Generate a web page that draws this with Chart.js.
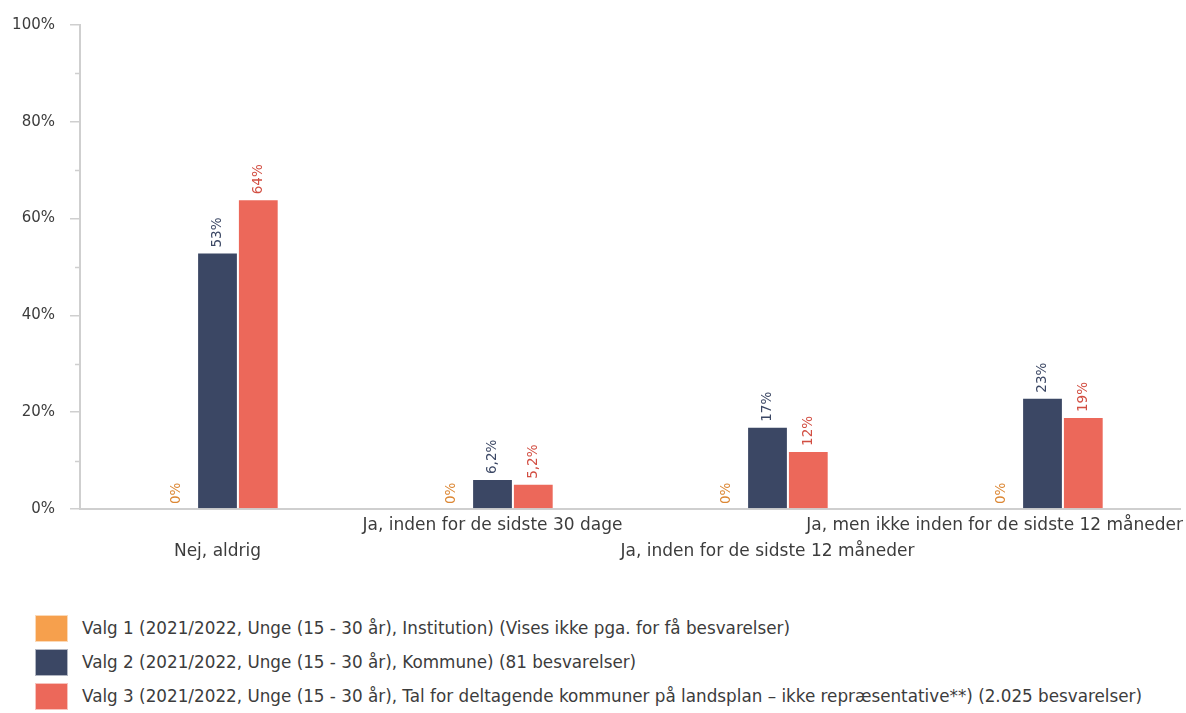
<!DOCTYPE html>
<html>
<head>
<meta charset="utf-8">
<script src="https://cdn.jsdelivr.net/npm/chart.js@4"></script>
<style>
  body { margin: 0; background: #fff; font-family: "DejaVu Sans", sans-serif; }
  #wrap { position: relative; width: 1186px; height: 713px; }
  #chartBox { position: absolute; left: 0; top: 0; width: 1186px; height: 585px; }
  .legend { position: absolute; left: 35px; font-size: 16.8px; color: #3c3c3c; }
  .legend .row { position: absolute; left: 0; height: 27px; white-space: nowrap; }
  .legend .sw { position: absolute; left: 0; top: 0; width: 31px; height: 25px; border: 1px solid rgba(255,255,255,0.6); }
  .legend .txt { position: absolute; left: 47px; top: 3px; }
</style>
</head>
<body>
<div id="wrap">
  <div id="chartBox"><canvas id="myChart"></canvas></div>
  <div class="legend" id="legend"></div>
</div>
<script>
// kategorier (to linjer for at forskyde etiketterne skiftevis)
const categories = [
  ["", "Nej, aldrig"],
  ["Ja, inden for de sidste 30 dage", ""],
  ["", "Ja, inden for de sidste 12 måneder"],
  ["Ja, men ikke inden for de sidste 12 måneder", ""]
];
const seriesNames = [
  "Valg 1 (2021/2022, Unge (15 - 30 år), Institution) (Vises ikke pga. for få besvarelser)",
  "Valg 2 (2021/2022, Unge (15 - 30 år), Kommune) (81 besvarelser)",
  "Valg 3 (2021/2022, Unge (15 - 30 år), Tal for deltagende kommuner på landsplan – ikke repræsentative**) (2.025 besvarelser)"
];
const valg1 = [0, 0, 0, 0];
const valg2 = [53, 6.2, 17, 23];
const valg3 = [64, 5.2, 12, 19];
const yTicks = [0, 20, 40, 60, 80, 100];

const barColors = ['#f6a04d', '#3b4764', '#ec685a'];
const labelColors = ['#dc8734', '#3b4764', '#d24e42'];

function fmt(v) {
  return String(v).replace('.', ',') + '%';
}

// små mellem-tick, x-etiketter (holdt inden for kanten) og lodrette værdietiketter
const extras = {
  id: 'extras',
  afterDraw(chart) {
    const ctx = chart.ctx;
    const y = chart.scales.y;
    const x = chart.scales.x;
    ctx.save();
    ctx.strokeStyle = '#cfcfcf';
    ctx.lineWidth = 1.5;
    for (let v = 10; v < 100; v += 20) {
      const py = Math.round(y.getPixelForValue(v)) + 0.5;
      ctx.beginPath();
      ctx.moveTo(y.right - 5, py);
      ctx.lineTo(y.right, py);
      ctx.stroke();
    }

    ctx.font = '17px "DejaVu Sans"';
    ctx.fillStyle = '#3c3c3c';
    ctx.textAlign = 'center';
    ctx.textBaseline = 'middle';
    categories.forEach((lines, i) => {
      const cx = x.getPixelForTick(i);
      lines.forEach((txt, k) => {
        if (!txt) return;
        const w = ctx.measureText(txt).width;
        let px = cx;
        if (px + w / 2 > chart.width - 3) px = chart.width - 3 - w / 2;
        ctx.fillText(txt, px, x.top + 17 + k * 26);
      });
    });

    ctx.font = '13.5px "DejaVu Sans"';
    ctx.textAlign = 'left';
    chart.data.datasets.forEach((ds, i) => {
      chart.getDatasetMeta(i).data.forEach((bar, j) => {
        ctx.save();
        ctx.translate(bar.x, bar.y - 5);
        ctx.rotate(-Math.PI / 2);
        ctx.fillStyle = labelColors[i];
        ctx.fillText(fmt(ds.data[j]), 0, 0);
        ctx.restore();
      });
    });
    ctx.restore();
  }
};

const ctx = document.getElementById('myChart').getContext('2d');
new Chart(ctx, {
  type: 'bar',
  data: {
    labels: categories,
    datasets: [valg1, valg2, valg3].map((d, i) => ({
      label: seriesNames[i],
      data: d,
      backgroundColor: barColors[i],
      borderColor: 'rgba(255,255,255,0.45)',
      borderWidth: 1,
      barPercentage: 1,
      categoryPercentage: 0.445
    }))
  },
  options: {
    responsive: true,
    maintainAspectRatio: false,
    animation: false,
    layout: { padding: { left: 0, top: 25, right: 6, bottom: 0 } },
    plugins: {
      legend: { display: false },
      tooltip: { enabled: false }
    },
    scales: {
      x: {
        afterFit: (s) => { s.height = 76; s.paddingLeft = 0; s.paddingRight = 0; },
        grid: { display: false, drawTicks: false },
        border: { display: true, color: '#cfcfcf', width: 2 },
        ticks: { display: false }
      },
      y: {
        min: 0,
        max: 100,
        afterBuildTicks: (axis) => { axis.ticks = yTicks.map(v => ({ value: v })); },
        afterFit: (s) => { s.width = 80; s.paddingTop = 0; s.paddingBottom = 0; },
        grid: { drawOnChartArea: false, tickLength: 10, color: '#cfcfcf', lineWidth: 1.5 },
        border: { display: true, color: '#cfcfcf', width: 2 },
        ticks: {
          padding: 15,
          color: '#3c3c3c',
          font: { family: 'DejaVu Sans', size: 15 },
          callback: (v) => v + '%'
        }
      }
    }
  },
  plugins: [extras]
});

// forklaring
const legendEl = document.getElementById('legend');
const rowTops = [615, 649, 683];
seriesNames.forEach((name, i) => {
  const row = document.createElement('div');
  row.className = 'row';
  row.style.top = rowTops[i] + 'px';
  row.innerHTML = '<span class="sw" style="background:' + barColors[i] + '"></span><span class="txt"></span>';
  row.querySelector('.txt').textContent = name;
  legendEl.appendChild(row);
});
</script>
</body>
</html>
